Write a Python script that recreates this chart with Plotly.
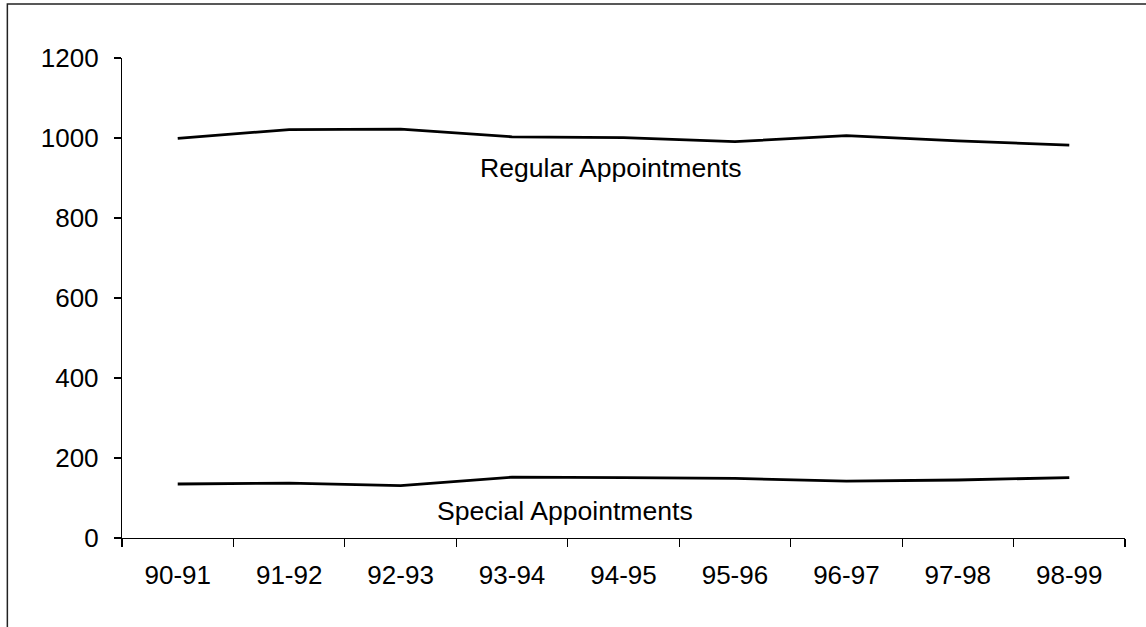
import plotly.graph_objects as go

years = ["90-91", "91-92", "92-93", "93-94", "94-95", "95-96", "96-97", "97-98", "98-99"]
regular = [999, 1021, 1022, 1003, 1001, 991, 1006, 993, 982]
special = [135, 137, 131, 152, 151, 149, 142, 145, 151]
y_ticks = [0, 200, 400, 600, 800, 1000, 1200]

FONT = "Liberation Sans, Arial, sans-serif"

fig = go.Figure()
fig.add_trace(go.Scatter(x=years, y=regular, mode="lines",
                         line=dict(color="black", width=2.8), name="Regular Appointments"))
fig.add_trace(go.Scatter(x=years, y=special, mode="lines",
                         line=dict(color="black", width=2.8), name="Special Appointments"))

fig.add_annotation(x=3.886, y=925, xref="x", yref="y", text="Regular Appointments",
                   showarrow=False, font=dict(family=FONT, size=26.6, color="black"),
                   xanchor="center", yanchor="middle")
fig.add_annotation(x=3.478, y=67, xref="x", yref="y", text="Special Appointments",
                   showarrow=False, font=dict(family=FONT, size=26.6, color="black"),
                   xanchor="center", yanchor="middle")

# outer chart border
fig.add_shape(type="rect", xref="paper", yref="paper",
              x0=-0.1143, x1=1.06, y0=-0.2, y1=1.1125,
              line=dict(color="#222222", width=1.5), fillcolor="rgba(0,0,0,0)", layer="below")

fig.update_layout(
    width=1146, height=627,
    margin=dict(l=122, r=21, t=58, b=89),
    paper_bgcolor="white", plot_bgcolor="white",
    showlegend=False,
    font=dict(family=FONT, size=26, color="black"),
    xaxis=dict(type="category", range=[-0.5, 8.5], showgrid=False, zeroline=False,
               showline=True, linecolor="black", linewidth=1.2,
               ticks="outside", ticklen=8, tickcolor="black", tickwidth=1.2,
               tickson="boundaries", ticklabelstandoff=14,
               tickfont=dict(family=FONT, size=26, color="black")),
    yaxis=dict(range=[0, 1200], tickvals=y_ticks, showgrid=False, zeroline=False,
               showline=True, linecolor="black", linewidth=1.2,
               ticks="outside", ticklen=7, tickcolor="black", tickwidth=1.2,
               ticklabelstandoff=10,
               tickfont=dict(family=FONT, size=26, color="black")),
)

fig.write_html("out.html",
               config={"displayModeBar": False, "staticPlot": True},
               post_script="document.body.style.margin='0';document.body.style.overflow='hidden';")
